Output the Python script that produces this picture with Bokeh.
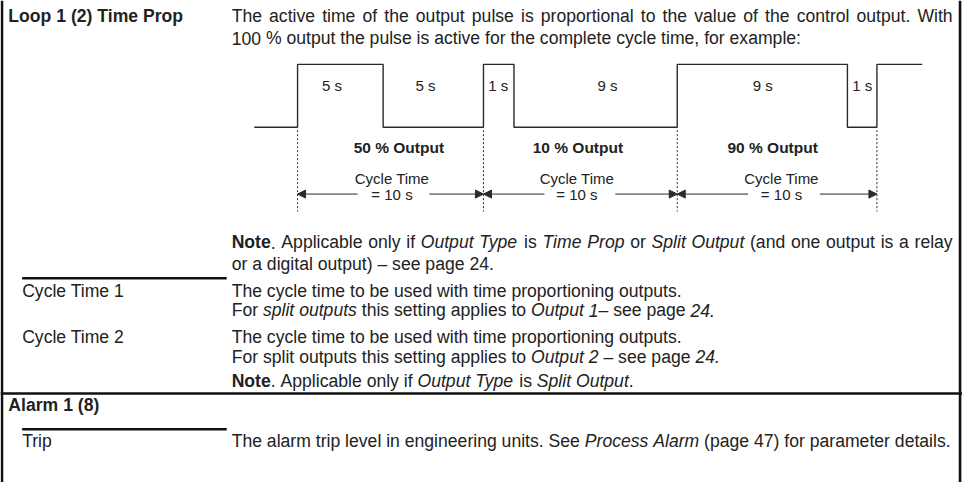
from bokeh.plotting import figure
from bokeh.models import Range1d, ColumnDataSource, Arrow, NormalHead
from bokeh.embed import file_html
from bokeh.resources import INLINE
from bokeh.core.properties import value

# ---------------- data ----------------
heading_text = ["Loop 1 (2) Time Prop", "Alarm 1 (8)"]
heading_y = [16, 418]

param_text = ["Cycle Time 1", "Cycle Time 2", "Trip"]
param_y = [300, 348, 455]

# description lines: (y, justified, [(segment, style), ...])  r=regular, i=italic, b=bold
desc_lines = [
    (16, True, [("The active time of the output pulse is proportional to the value of the control output. With", "r")]),
    (39, False, [("100 % output the pulse is active for the complete cycle time, for example:", "r")]),
    (250, True, [("Note", "b"), (". Applicable only if ", "r"), ("Output Type", "i"), (" is ", "r"),
                 ("Time Prop", "i"), (" or ", "r"), ("Split Output", "i"), (" (and one output is a relay", "r")]),
    (272, False, [("or a digital output) \u2013 see page 24.", "r")]),
    (300, False, [("The cycle time to be used with time proportioning outputs.", "r")]),
    (320, False, [("For ", "r"), ("split outputs", "i"), (" this setting applies to ", "r"), ("Output 1", "i"),
                  ("\u2013 see page ", "r"), ("24.", "i")]),
    (348, False, [("The cycle time to be used with time proportioning outputs.", "r")]),
    (368, False, [("For split outputs this setting applies to ", "r"), ("Output 2", "i"),
                  (" \u2013 see page ", "r"), ("24.", "i")]),
    (393, False, [("Note", "b"), (". Applicable only if ", "r"), ("Output Type", "i"), (" is ", "r"),
                  ("Split Output", "i"), (".", "r")]),
    (455, False, [("The alarm trip level in engineering units. See ", "r"), ("Process Alarm", "i"),
                  (" (page 47) for parameter details.", "r")]),
]

# pulse waveform (edges) and its on/off state
wave_x = [258, 302, 302, 389, 389, 491, 491, 522, 522, 688, 688, 861, 861, 891, 891, 937]
wave_state = [0, 0, 1, 1, 0, 0, 1, 1, 0, 0, 1, 1, 0, 0, 1, 1]

pulse_labels = ["5 s", "5 s", "1 s", "9 s", "9 s", "1 s"]
pulse_label_x = [337, 432, 506, 617, 775, 876]

cycle_edges = [302, 491, 688, 891]
output_pct = [50, 10, 90]
output_label_x = [405, 587, 785]
cycle_time_s = [10, 10, 10]
cycle_label_x = [398, 586, 794]
arrow_gap_left = [363, 553, 760]
arrow_gap_right = [436, 625, 833]

# ---------------- layout / style ----------------
W_REF, H_REF = 978, 498
PW, PH = 962, 482
XS = W_REF / PW

FONT = "Liberation Sans"
BODY_PX = 17.6
DIAG_PX = 15
TEXT_C = "#222222"
LINE_C = "#2a2a2a"
X_HEAD, X_PARAM, X_DESC = 8, 22, 235
X_JUSTIFY = 968
Y_HIGH, Y_LOW = 66, 131

REG = {' ': 278, '!': 278, '%': 889, '(': 333, ')': 333, ',': 278, '-': 333, '.': 278, '/': 278,
       ':': 278, ';': 278, '=': 584, '\u2013': 556,
       'A': 667, 'B': 667, 'C': 722, 'D': 722, 'E': 667, 'F': 611, 'G': 778, 'H': 722, 'I': 278,
       'J': 500, 'K': 667, 'L': 556, 'M': 833, 'N': 722, 'O': 778, 'P': 667, 'Q': 778, 'R': 722,
       'S': 667, 'T': 611, 'U': 722, 'V': 667, 'W': 944, 'X': 667, 'Y': 667, 'Z': 611,
       'a': 556, 'b': 556, 'c': 500, 'd': 556, 'e': 556, 'f': 278, 'g': 556, 'h': 556, 'i': 222,
       'j': 222, 'k': 500, 'l': 222, 'm': 833, 'n': 556, 'o': 556, 'p': 556, 'q': 556, 'r': 333,
       's': 500, 't': 278, 'u': 556, 'v': 500, 'w': 722, 'x': 500, 'y': 500, 'z': 500}
for d in "0123456789":
    REG[d] = 556
BOLD = {' ': 278, '.': 278, 'N': 722, 'o': 611, 't': 333, 'e': 556}


def run_width(s, style, px):
    table = BOLD if style == "b" else REG
    return sum(table.get(ch, 556) for ch in s) / 1000.0 * px * XS


p = figure(width=PW, height=PH, x_range=Range1d(0, W_REF), y_range=Range1d(H_REF, 0),
           output_backend="svg", toolbar_location=None, min_border=0,
           x_axis_location=None, y_axis_location=None, background_fill_color="white",
           border_fill_color="white", outline_line_color=None)
p.grid.visible = False

# frame lines
p.segment(x0=[1.5, 975.5, 0], y0=[0, 0, 406], x1=[1.5, 975.5, W_REF], y1=[H_REF, H_REF, 406],
          line_color="#111111", line_width=2.6)
p.segment(x0=[22, 22], y0=[287, 443], x1=[230, 230], y1=[287, 443],
          line_color="#111111", line_width=2.4)

# texts
p.text(x=[X_HEAD] * len(heading_text), y=heading_y, text=heading_text, text_font=value(FONT),
       text_font_size=f"{BODY_PX}px", text_font_style="bold", text_color=TEXT_C,
       text_baseline="middle", text_align="left")
p.text(x=[X_PARAM] * len(param_text), y=param_y, text=param_text, text_font=value(FONT),
       text_font_size=f"{BODY_PX}px", text_color=TEXT_C, text_baseline="middle", text_align="left")

runs = {"r": ([], [], []), "i": ([], [], []), "b": ([], [], [])}
space_w = run_width(" ", "r", BODY_PX)
for y, justify, parts in desc_lines:
    # split into words, each word a list of styled runs
    words, cur = [], []
    for s, st in parts:
        for ch in s:
            if ch == " ":
                if cur:
                    words.append(cur)
                    cur = []
            else:
                if cur and cur[-1][1] == st:
                    cur[-1][0] += ch
                else:
                    cur.append([ch, st])
    if cur:
        words.append(cur)
    word_w = [sum(run_width(t, st, BODY_PX) for t, st in w) for w in words]
    gap = space_w
    if justify and len(words) > 1:
        gap = (X_JUSTIFY - X_DESC - sum(word_w)) / (len(words) - 1)
    x = X_DESC
    for w, ww in zip(words, word_w):
        xx = x
        for t, st in w:
            runs[st][0].append(xx)
            runs[st][1].append(y)
            runs[st][2].append(t)
            xx += run_width(t, st, BODY_PX)
        x += ww + gap

style_map = {"r": "normal", "i": "italic", "b": "bold"}
for st, (xs, ys, ts) in runs.items():
    p.text(x=xs, y=ys, text=ts, text_font=value(FONT), text_font_size=f"{BODY_PX}px",
           text_font_style=style_map[st], text_color=TEXT_C, text_baseline="middle",
           text_align="left")

# waveform
wave_y = [Y_HIGH if s else Y_LOW for s in wave_state]
p.line(wave_x, wave_y, line_color=LINE_C, line_width=1.4)

p.text(x=pulse_label_x, y=[88] * len(pulse_labels), text=pulse_labels, text_font=value(FONT),
       text_font_size=f"{DIAG_PX}px", text_color=TEXT_C, text_baseline="middle",
       text_align="center")

# dotted cycle boundaries
p.segment(x0=cycle_edges, y0=[134] * 4, x1=cycle_edges, y1=[218] * 4, line_color=LINE_C,
          line_width=1, line_dash="2 2")

p.text(x=output_label_x, y=[152] * 3, text=[f"{v} % Output" for v in output_pct],
       text_font=value(FONT), text_font_size="15.5px", text_font_style="bold",
       text_color=TEXT_C, text_baseline="middle", text_align="center")
p.text(x=cycle_label_x, y=[184] * 3, text=["Cycle Time"] * 3, text_font=value(FONT),
       text_font_size=f"{DIAG_PX}px", text_color=TEXT_C, text_baseline="middle",
       text_align="center")
p.text(x=cycle_label_x, y=[200] * 3, text=[f"= {v} s" for v in cycle_time_s],
       text_font=value(FONT), text_font_size=f"{DIAG_PX}px", text_color=TEXT_C,
       text_baseline="middle", text_align="center")

# dimension arrows
xs0 = arrow_gap_left + arrow_gap_right
xs1 = cycle_edges[:-1] + cycle_edges[1:]
arr_src = ColumnDataSource(dict(x0=xs0, x1=xs1, y=[200] * 6))
p.add_layout(Arrow(end=NormalHead(size=8, fill_color=LINE_C, line_color=LINE_C, line_width=1),
                   x_start="x0", y_start="y", x_end="x1", y_end="y", source=arr_src,
                   line_color=LINE_C, line_width=1))

open("out.html", "w").write(file_html(p, INLINE))
